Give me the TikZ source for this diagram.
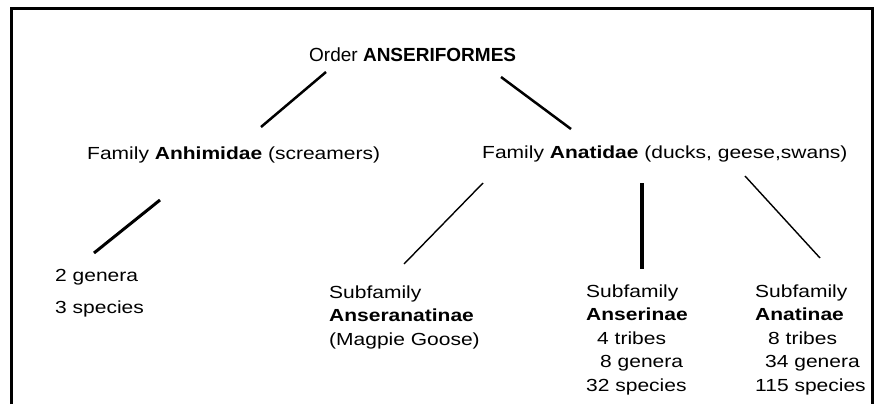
\documentclass[tikz,border=0pt]{standalone}
\usepackage{fontspec}
\setmainfont{Liberation Sans}[FakeStretch=1.2]
\newfontfamily\orderfont{Liberation Sans}

\begin{document}
\begin{tikzpicture}[x=1pt,y=-1pt,
        taxon/.style={anchor=base west, inner sep=0pt, align=left,
            font=\fontsize{17.5}{23.5}\selectfont}, % every label of the tree, placed by its last baseline
        branch/.style={line width=2.5pt}, % heavy connector
        twig/.style={line width=1.4pt} % light connector
    ]
    \useasboundingbox (0,0) rectangle (877,404);
    \draw[line width=3pt] (11.3,404) |- (872.7,8.5) -- (872.7,404); % frame, open at the bottom

    \node[taxon, font=\orderfont\fontsize{19}{23}\selectfont] (order) at (309,62) {Order \textbf{ANSERIFORMES}};
    \node[taxon] (anhimidae) at (87,159) {Family \textbf{Anhimidae} (screamers)};
    \node[taxon] (anatidae) at (482,158) {Family \textbf{Anatidae} (ducks, geese,swans)};
    \node[taxon] (screamers) at (55,313) {2 genera\\[8pt]3 species};
    \node[taxon] (anseranatinae) at (329,345) {Subfamily\\\textbf{Anseranatinae}\\(Magpie Goose)};
    \node[taxon] (anserinae) at (586,391) {Subfamily\\\textbf{Anserinae}\\\hspace*{11pt}4 tribes\\\hspace*{14pt}8 genera\\32 species};
    \node[taxon] (anatinae) at (755,391) {Subfamily\\\textbf{Anatinae}\\\hspace*{13pt}8 tribes\\\hspace*{10pt}34 genera\\115 species};

    % line ends, a little off the labels
    \coordinate (order-l) at (326,72);
    \coordinate (order-r) at (501,77);
    \coordinate (anhimidae-t) at (261,127);
    \coordinate (anhimidae-b) at (160,200);
    \coordinate (anatidae-t) at (571,129);
    \coordinate (anatidae-l) at (483,183);
    \coordinate (anatidae-m) at (642,183);
    \coordinate (anatidae-r) at (745,176);
    \coordinate (screamers-t) at (94,253);
    \coordinate (anseranatinae-t) at (404,264);
    \coordinate (anserinae-t) at (642,269);
    \coordinate (anatinae-t) at (820,258);

    \draw[branch] (order-l) -- (anhimidae-t);
    \draw[branch] (order-r) -- (anatidae-t);
    \draw[line width=3pt] (anhimidae-b) -- (screamers-t);
    \draw[twig] (anatidae-l) -- (anseranatinae-t);
    \draw[line width=4pt] (anatidae-m) -- (anserinae-t);
    \draw[twig] (anatidae-r) -- (anatinae-t);
\end{tikzpicture}
\end{document}
